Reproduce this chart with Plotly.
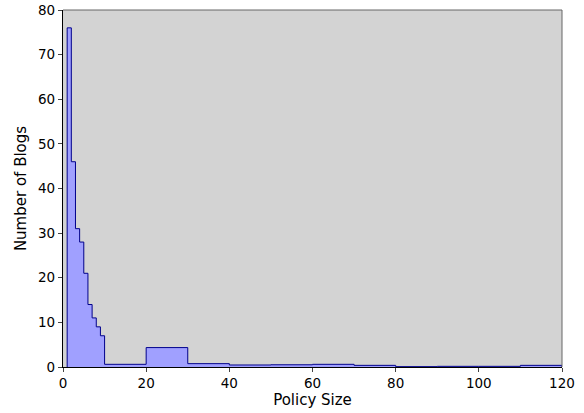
import plotly.graph_objects as go

bin_edges = [1, 2, 3, 4, 5, 6, 7, 8, 9, 10, 20, 30, 40, 50, 60, 70, 80, 90, 100, 110, 120]
blog_counts = [76, 46, 31, 28, 21, 14, 11, 9, 7,
               0.6, 4.35, 0.75, 0.45, 0.5, 0.6, 0.37, 0.08, 0.15, 0.15, 0.37]
x_ticks = [0, 20, 40, 60, 80, 100, 120]
y_ticks = [0, 10, 20, 30, 40, 50, 60, 70, 80]

xs = [bin_edges[0]] + bin_edges
ys = [0] + blog_counts + [0]

fig = go.Figure()
fig.add_trace(go.Scatter(
    x=xs, y=ys, mode="lines", line=dict(shape="hv", color="#00008b", width=1),
    fill="tozeroy", fillcolor="#a0a0ff", hoverinfo="skip", showlegend=False,
))

font = dict(family="DejaVu Sans", size=12.5, color="black")
tickfont = dict(family="DejaVu Sans", size=13.5, color="black")
fig.update_layout(
    width=584, height=413,
    margin=dict(l=63, r=22, t=10, b=46, autoexpand=False),
    paper_bgcolor="white", plot_bgcolor="#d3d3d3",
    font=font,
    xaxis=dict(range=[0, 120], tickvals=x_ticks, ticks="outside", ticklen=4,
               tickfont=tickfont,
               showline=True, linecolor="black", linewidth=1.2, mirror=False,
               automargin=False,
               showgrid=False, zeroline=False, title=dict(text="Policy Size", standoff=3)),
    yaxis=dict(range=[0, 80], tickvals=y_ticks, ticks="outside", ticklen=4,
               tickfont=tickfont,
               showline=True, linecolor="black", linewidth=1.2, mirror=False,
               automargin=False,
               showgrid=False, zeroline=False, title=dict(text="Number of Blogs", standoff=7)),
    shapes=[
        dict(type="line", xref="paper", yref="paper", x0=0, x1=1, y0=1, y1=1,
             line=dict(color="#666666", width=1)),
        dict(type="line", xref="paper", yref="paper", x0=1, x1=1, y0=0, y1=1,
             line=dict(color="#666666", width=1)),
    ],
)
fig.write_html("out.html", config={"displayModeBar": False},
               post_script="document.body.style.margin='0';")
